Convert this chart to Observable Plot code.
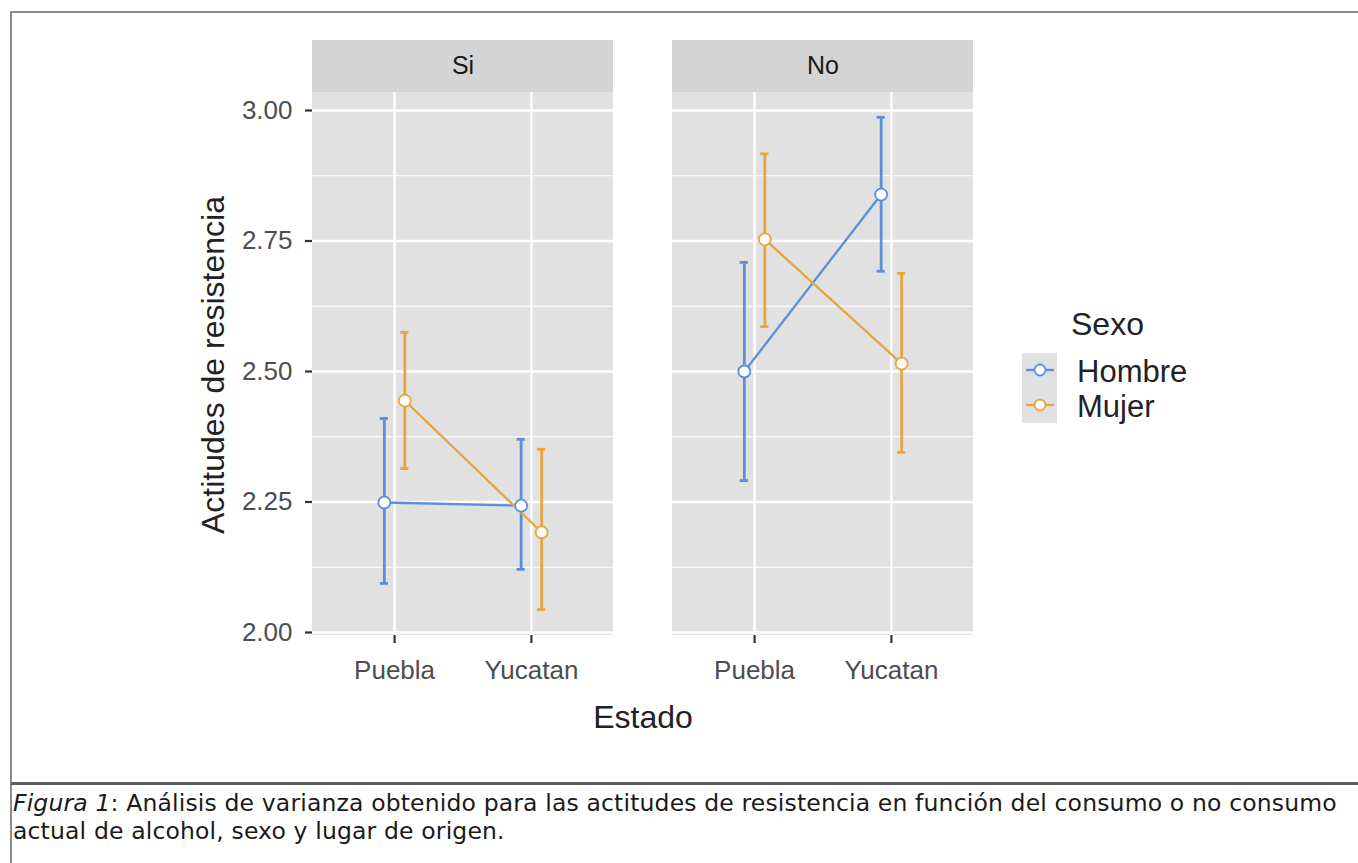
<!DOCTYPE html>
<html>
<head>
<meta charset="utf-8">
<script src="https://cdn.jsdelivr.net/npm/d3@7"></script>
<script src="https://cdn.jsdelivr.net/npm/@observablehq/plot@0.6"></script>
<style>
html, body { margin: 0; padding: 0; background: #fff; }
#wrap { position: relative; width: 1358px; height: 863px; overflow: hidden; }
#chart { position: absolute; left: 0; top: 0; }
#frame { position: absolute; left: 10px; top: 11px; width: 1400px; height: 769px;
  border-top: 2px solid #8c8c8c; border-left: 2px solid #8c8c8c; border-bottom: 3px solid #5e5e5e; pointer-events: none; }
#leftline { position: absolute; left: 10px; top: 11px; width: 2px; height: 860px; background: #8c8c8c; }
#caption { position: absolute; left: 13px; top: 789px; white-space: nowrap;
  font-family: "DejaVu Sans", sans-serif; font-size: 23.5px; letter-spacing: 0.15px; line-height: 28px; color: #1a1a1a; }
</style>
</head>
<body>
<div id="wrap">
  <div id="chart"></div>
  <div id="leftline"></div>
  <div id="frame"></div>
  <div id="caption"><i>Figura 1</i>: Análisis de varianza obtenido para las actitudes de resistencia en función del consumo o no consumo<br>actual de alcohol, sexo y lugar de origen.</div>
</div>
<script>
// ---- data ----
const consumo = ["Si", "No"];
const estados = ["Puebla", "Yucatan"];
const sexos = ["Hombre", "Mujer"];
const colores = ["#5b8fd9", "#e9a53b"];

// means per estado [Puebla, Yucatan]
const media_Si_Hombre = [2.249, 2.243];
const media_Si_Mujer  = [2.444, 2.192];
const media_No_Hombre = [2.500, 2.839];
const media_No_Mujer  = [2.753, 2.515];
// lower limits
const inf_Si_Hombre = [2.094, 2.121];
const inf_Si_Mujer  = [2.314, 2.044];
const inf_No_Hombre = [2.291, 2.692];
const inf_No_Mujer  = [2.586, 2.345];
// upper limits
const sup_Si_Hombre = [2.410, 2.370];
const sup_Si_Mujer  = [2.575, 2.351];
const sup_No_Hombre = [2.709, 2.987];
const sup_No_Mujer  = [2.917, 2.688];

const yTicks = [2.00, 2.25, 2.50, 2.75, 3.00];
const yMinor = [2.125, 2.375, 2.625, 2.875];

// ---- build table ----
const tabla = {
  Si: {Hombre: [media_Si_Hombre, inf_Si_Hombre, sup_Si_Hombre], Mujer: [media_Si_Mujer, inf_Si_Mujer, sup_Si_Mujer]},
  No: {Hombre: [media_No_Hombre, inf_No_Hombre, sup_No_Hombre], Mujer: [media_No_Mujer, inf_No_Mujer, sup_No_Mujer]}
};
const dodge = {Hombre: -0.075, Mujer: 0.075};
const rows = [];
for (const c of consumo) for (const s of sexos) estados.forEach((e, i) => {
  const [m, lo, hi] = tabla[c][s];
  rows.push({consumo: c, sexo: s, estado: e, pos: i + 1 + dodge[s], media: m[i], lo: lo[i], hi: hi[i]});
});
const panels = consumo.map(c => ({consumo: c}));

const xDomain = [0.4, 2.6];
const yPanel = [1.99425, 3.0345];
const stripTop = 3.1341;
const cap = 0.03;

const chart = Plot.plot({
  width: 1358, height: 780,
  marginLeft: 312, marginRight: 385, marginTop: 40, marginBottom: 145,
  style: {fontFamily: "'Liberation Sans', Arial, sans-serif", background: "transparent"},
  fx: {domain: consumo, paddingInner: 0.165, paddingOuter: 0, axis: null, label: null},
  x: {type: "linear", domain: xDomain, axis: null},
  y: {domain: [yPanel[0], stripTop], axis: null},
  color: {domain: sexos, range: colores},
  marks: [
    Plot.rect(panels, {fx: "consumo", x1: () => xDomain[0], x2: () => xDomain[1], y1: () => yPanel[0], y2: () => yPanel[1], fill: "#e1e1e1"}),
    Plot.rect(panels, {fx: "consumo", x1: () => xDomain[0], x2: () => xDomain[1], y1: () => yPanel[1], y2: () => stripTop, fill: "#d4d4d4"}),
    Plot.text(panels, {fx: "consumo", x: () => (xDomain[0] + xDomain[1]) / 2, y: () => (yPanel[1] + stripTop) / 2, text: "consumo", fontSize: 25, fill: "#1a1a1a"}),
    Plot.ruleY(yMinor, {x1: () => xDomain[0], x2: () => xDomain[1], stroke: "#ffffff", strokeWidth: 1.2}),
    Plot.ruleY(yTicks, {x1: () => xDomain[0], x2: () => xDomain[1], stroke: "#ffffff", strokeWidth: 2.4}),
    Plot.ruleX([1, 2], {y1: () => yPanel[0], y2: () => yPanel[1], stroke: "#ffffff", strokeWidth: 2.4}),
    Plot.ruleX(rows, {fx: "consumo", x: "pos", y1: "lo", y2: "hi", stroke: "sexo", strokeWidth: 2.8}),
    Plot.ruleY(rows, {fx: "consumo", y: "lo", x1: d => d.pos - cap, x2: d => d.pos + cap, stroke: "sexo", strokeWidth: 2.8}),
    Plot.ruleY(rows, {fx: "consumo", y: "hi", x1: d => d.pos - cap, x2: d => d.pos + cap, stroke: "sexo", strokeWidth: 2.8}),
    Plot.line(rows, {fx: "consumo", x: "pos", y: "media", z: "sexo", stroke: "sexo", strokeWidth: 2.3}),
    Plot.dot(rows, {fx: "consumo", x: "pos", y: "media", r: 6, fill: "white", stroke: "sexo", strokeWidth: 1.8}),
    Plot.axisY(yTicks, {anchor: "left", tickSize: 7, tickPadding: 13, tickFormat: d3.format(".2f"), fontSize: 26,
      stroke: "#333", strokeWidth: 2.2, fill: "#4d4d4d", label: null}),
    Plot.axisX([1, 2], {anchor: "bottom", tickSize: 8, tickPadding: 17, tickFormat: d => estados[d - 1], fontSize: 26,
      stroke: "#333", strokeWidth: 2.2, fill: "#4d4d4d", label: null})
  ]
});
document.getElementById("chart").appendChild(chart);

// ---- titles & legend ----
const svg = d3.select(chart);
const ff = "'Liberation Sans', Arial, sans-serif";
svg.append("text").attr("transform", "translate(224,365) rotate(-90)")
  .attr("text-anchor", "middle").attr("font-family", ff).attr("font-size", 32).attr("fill", "#222")
  .text("Actitudes de resistencia");
svg.append("text").attr("x", 643).attr("y", 728)
  .attr("text-anchor", "middle").attr("font-family", ff).attr("font-size", 32).attr("fill", "#222")
  .text("Estado");

const lg = svg.append("g").attr("font-family", ff).attr("text-anchor", "start");
lg.append("text").attr("x", 1071).attr("y", 335).attr("font-size", 32).attr("fill", "#222").text("Sexo");
lg.append("rect").attr("x", 1022).attr("y", 353).attr("width", 35).attr("height", 70).attr("fill", "#e1e1e1");
sexos.forEach((s, i) => {
  const cy = 370 + i * 35;
  lg.append("line").attr("x1", 1026).attr("x2", 1054).attr("y1", cy).attr("y2", cy)
    .attr("stroke", colores[i]).attr("stroke-width", 2.3);
  lg.append("circle").attr("cx", 1040).attr("cy", cy).attr("r", 5.5)
    .attr("fill", "white").attr("stroke", colores[i]).attr("stroke-width", 1.8);
  lg.append("text").attr("x", 1077).attr("y", cy + 12).attr("font-size", 31).attr("fill", "#222").text(s);
});
</script>
</body>
</html>
